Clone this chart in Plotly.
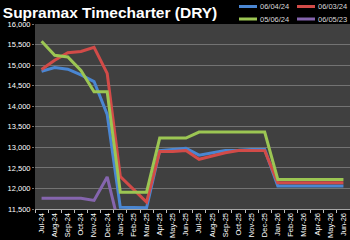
import plotly.graph_objects as go

months = ["Jul-24","Aug-24","Sep-24","Oct-24","Nov-24","Dec-24","Jan-25","Feb-25","Mar-25",
          "Apr-25","May-25","Jun-25","Jul-25","Aug-25","Sep-25","Oct-25","Nov-25","Dec-25",
          "Jan-26","Feb-26","Mar-26","Apr-26","May-26","Jun-26"]

s_0604_24 = [14850,14940,14900,14760,14600,13800,11540,11530,11530,12920,12950,12975,
             12810,12870,12925,12930,12950,12950,12060,12060,12060,12060,12060,12060]
s_0603_24 = [14895,15120,15300,15330,15430,14800,12290,11980,11670,12900,12900,12925,
             12710,12790,12870,12925,12920,12920,12140,12140,12140,12140,12140,12140]
s_0506_24 = [15580,15240,15200,14870,14350,14350,11910,11910,11910,13225,13225,13225,
             13370,13370,13370,13370,13370,13370,12220,12220,12220,12220,12220,12220]
s_0605_23 = [11760,11760,11760,11760,11710,12280,10980]

series_names = ["06/04/24", "06/03/24", "05/06/24", "06/05/23"]
series_vals = [s_0604_24, s_0603_24, s_0506_24, s_0605_23]
colors = ["#4A86D2", "#D24B48", "#9CC653", "#8565AE"]

y_ticks = list(range(11500, 16001, 500))

fig = go.Figure()
for name, vals, c in zip(series_names, series_vals, colors):
    fig.add_trace(go.Scatter(x=months[:len(vals)], y=vals, name=name, mode="lines",
                             line=dict(color=c, width=3), showlegend=False))

W, H = 350, 240
L, R, T, B = 35, 0, 24, 31
pw, ph = W - L - R, H - T - B

def px_to_paper(x, y):
    return (x - L) / pw, (H - B - y) / ph

# manual legend (2 columns x 2 rows)
leg_pos = [(239, 6.5), (297, 6.5), (239, 19), (297, 19)]
for (lx, ly), name, c in zip(leg_pos, series_names, colors):
    x0, y0 = px_to_paper(lx, ly)
    x1, _ = px_to_paper(lx + 18, ly)
    fig.add_shape(type="line", xref="paper", yref="paper", x0=x0, x1=x1, y0=y0, y1=y0,
                  line=dict(color=c, width=3))
    tx, _ = px_to_paper(lx + 19, ly)
    fig.add_annotation(xref="paper", yref="paper", x=tx, y=y0, text=name, showarrow=False,
                       xanchor="left", yanchor="middle",
                       font=dict(family="Liberation Sans", size=7.5, color="#D9D9D9"))

fig.update_layout(
    width=W, height=H,
    margin=dict(l=L, r=R, t=T, b=B, pad=0),
    paper_bgcolor="black", plot_bgcolor="#404040",
    title=dict(text="<b>Supramax Timecharter (DRY)</b>", x=0.008, xanchor="left",
               y=1 - 12.5 / H, yanchor="middle", yref="container",
               font=dict(family="Liberation Sans Narrow, Liberation Sans", size=15.5, color="white")),
    xaxis=dict(type="category", categoryorder="array", categoryarray=months,
               tickangle=-90, tickfont=dict(family="Liberation Sans", size=7.5, color="white"),
               showgrid=False, ticks="outside", ticklen=3, tickcolor="#BFBFBF",
               tickson="boundaries", showline=True, linecolor="#A6A6A6", linewidth=1,
               range=[-0.5, len(months) - 0.5]),
    yaxis=dict(range=[11500, 16000], tickvals=y_ticks, tickprefix="$", tickformat=",d",
               tickfont=dict(family="Liberation Sans", size=7.5, color="white"),
               showgrid=True, gridcolor="#737373", gridwidth=1,
               ticks="outside", ticklen=2, tickcolor="#737373",
               zeroline=False, showline=False),
)

fig.write_html("out.html")
